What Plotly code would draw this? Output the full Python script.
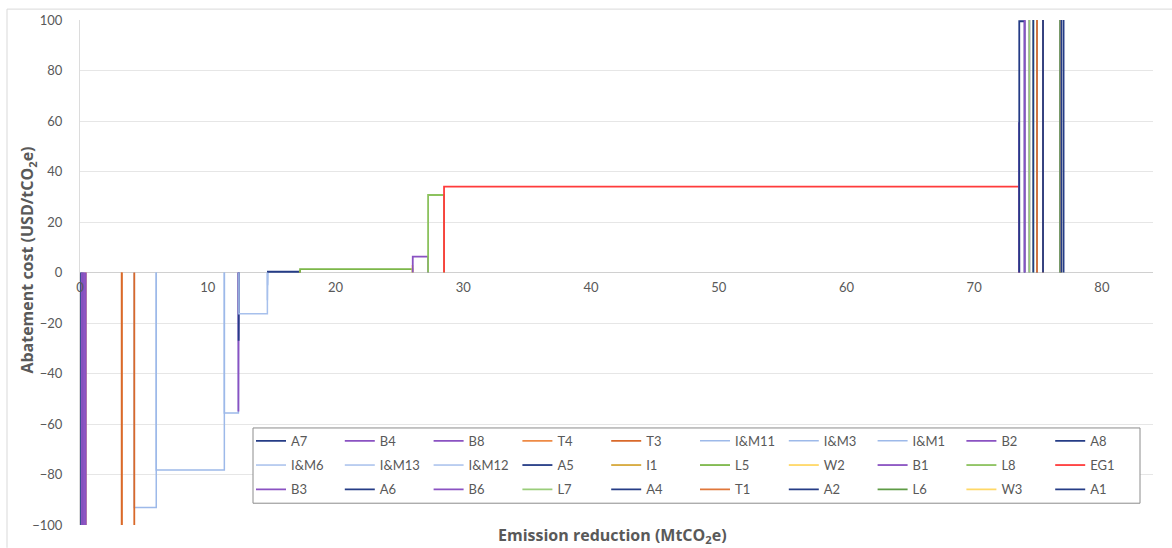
import plotly.graph_objects as go

# Abatement measures in merit order, with cumulative reduction span (MtCO2e)
# and marginal abatement cost (USD/tCO2e)
measures = ["A7", "B4", "B8", "T4", "T3", "I&M11", "I&M3", "I&M1", "B2", "A8",
            "I&M6", "I&M13", "I&M12", "A5", "I1", "L5", "W2", "B1", "L8", "EG1",
            "B3", "A6", "B6", "L7", "A4", "T1", "A2", "L6", "W3", "A1"]
x_start = [0.00, 0.15, 0.30, 0.45, 3.27, 4.25, 5.97, 11.30, 12.40, 12.42,
           12.44, 14.67, 14.69, 14.71, 17.21, 17.23, 26.03, 26.05, 27.25, 28.50,
           73.51, 73.53, 73.95, 74.32, 74.63, 74.92, 75.39, 76.74, 76.78, 76.82]
x_end = [0.15, 0.30, 0.45, 3.27, 4.25, 5.97, 11.30, 12.40, 12.42, 12.44,
         14.67, 14.69, 14.71, 17.21, 17.23, 26.03, 26.05, 27.25, 28.50, 73.51,
         73.53, 73.95, 74.32, 74.63, 74.92, 75.39, 76.74, 76.78, 76.82, 77.00]
cost = [-400, -300, -250, -200, -150, -93.1, -78.2, -55.6, -55.0, -27.0,
        -16.3, -11.0, -5.0, 0.3, 0.7, 1.3, 3.0, 6.3, 30.7, 34.0,
        59.5, 99.5, 150, 160, 170, 180, 200, 250, 260, 300]

x_ticks = [0, 10, 20, 30, 40, 50, 60, 70, 80]
y_ticks = [-100, -80, -60, -40, -20, 0, 20, 40, 60, 80, 100]

colors = {
    "A7": "#253C86", "A8": "#253C86", "A5": "#253C86", "A6": "#253C86",
    "A4": "#253C86", "A2": "#253C86", "A1": "#253C86",
    "B4": "#8A52C2", "B8": "#8A52C2", "B2": "#8A52C2", "B1": "#8A52C2",
    "B3": "#8A52C2", "B6": "#8A52C2",
    "T4": "#EE8A45", "T3": "#D9692A", "T1": "#E0773A",
    "I&M11": "#9DB9E9", "I&M3": "#9DB9E9", "I&M1": "#9DB9E9",
    "I&M6": "#A7C0EC", "I&M13": "#A7C0EC", "I&M12": "#A7C0EC",
    "I1": "#D6A83A",
    "L5": "#7CB749", "L8": "#8CC25E", "L7": "#9ACD7A", "L6": "#5E9B45",
    "W2": "#FFD866", "W3": "#FFD866",
    "EG1": "#FF3B3B",
}
widths = {"I&M11": 1.5, "I&M3": 1.5, "I&M1": 1.5, "I&M6": 1.5,
          "I&M13": 1.5, "I&M12": 1.5}

# T4 sits beneath its neighbours, T3 on top of them
draw_order = ["T4"] + [m for m in measures if m not in ("T4", "T3")] + ["T3"]

# Plot-area geometry in pixels (used for legend/annotation placement)
W, H = 1172, 548
L, R, T, B = 80, 19, 15, 23
PW, PH = W - L - R, H - T - B


def px_x(p):
    return (p - L) / PW


def px_y(p):
    return (H - B - p) / PH


fig = go.Figure()
for name in draw_order:
    i = measures.index(name)
    x0, x1, c = x_start[i], x_end[i], cost[i]
    row = i // 10
    fig.add_trace(go.Scatter(
        x=[x0, x0, x1, x1], y=[0, c, c, 0],
        mode="lines", name=name,
        line=dict(color=colors[name], width=widths.get(name, 1.8)),
        legend=["legend", "legend2", "legend3"][row],
        legendrank=i, hoverinfo="name",
    ))

font_family = "Lato, 'Open Sans', sans-serif"
title_family = "'Open Sans', 'Noto Sans', sans-serif"
grey = "#595959"

legend_common = dict(
    orientation="h", xanchor="left", yanchor="middle",
    x=px_x(251), bgcolor="rgba(0,0,0,0)", borderwidth=0,
    entrywidth=43.8, entrywidthmode="pixels", itemwidth=30,
    font=dict(family=font_family, size=13, color=grey),
    traceorder="normal",
)

fig.update_layout(
    width=W, height=H,
    margin=dict(l=L, r=R, t=T, b=B),
    plot_bgcolor="white", paper_bgcolor="white",
    font=dict(family=font_family, size=12, color=grey),
    legend=dict(legend_common, y=px_y(440)),
    legend2=dict(legend_common, y=px_y(464.5)),
    legend3=dict(legend_common, y=px_y(489)),
    xaxis=dict(
        range=[0, 84], tickvals=x_ticks, showgrid=False, zeroline=False,
        showline=False, anchor="free", position=0.5,
        ticks="", ticklabelstandoff=5,
        tickfont=dict(family=font_family, size=13, color=grey),
    ),
    yaxis=dict(
        range=[-100, 100], tickvals=y_ticks, showgrid=True,
        gridcolor="#e6e6e6", gridwidth=1,
        zeroline=True, zerolinecolor="#d0d0d0", zerolinewidth=1,
        showline=True, linecolor="#dcdcdc", linewidth=1,
        ticks="", ticklabelstandoff=14,
        tickfont=dict(family=font_family, size=13, color=grey),
    ),
    shapes=[
        # legend frame (opaque, over the curve)
        dict(type="rect", xref="paper", yref="paper",
             x0=px_x(253), x1=px_x(1140), y0=px_y(503), y1=px_y(427),
             line=dict(color="#8c8c8c", width=1), fillcolor="white",
             layer="above"),
        # chart-area border
        dict(type="line", xref="paper", yref="paper",
             x0=px_x(7), x1=px_x(1172), y0=px_y(4), y1=px_y(4),
             line=dict(color="#d9d9d9", width=1)),
        dict(type="line", xref="paper", yref="paper",
             x0=px_x(7), x1=px_x(7), y0=px_y(4), y1=px_y(548),
             line=dict(color="#d9d9d9", width=1)),
    ],
    annotations=[
        dict(text="<b>Emission reduction (MtCO<sub>2</sub>e)</b>",
             xref="paper", yref="paper", x=px_x(612), y=px_y(536),
             xanchor="center", yanchor="middle", showarrow=False,
             font=dict(family=title_family, size=16, color=grey)),
        dict(text="<b>Abatement cost (USD/tCO<sub>2</sub>e)</b>",
             xref="paper", yref="paper", x=px_x(28), y=px_y(258),
             xanchor="center", yanchor="middle", showarrow=False,
             textangle=-90,
             font=dict(family=title_family, size=16, color=grey)),
    ],
)

fig.write_html("out.html")
